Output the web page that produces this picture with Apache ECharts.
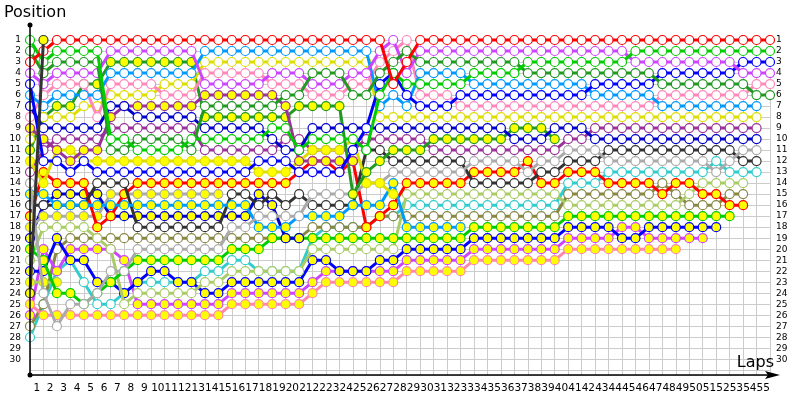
<!DOCTYPE html>
<html><head><meta charset="utf-8">
<script src="https://cdn.jsdelivr.net/npm/echarts@6/dist/echarts.min.js"></script>
<style>html,body{margin:0;padding:0;background:#fff}#c{width:800px;height:400px}</style>
</head><body><div id="c"></div>
<script>
const lapLabels = ['1','2','3','4','5','6','7','8','9','10','11','12','13','14','15','16','17','18','19','20','21','22','23','24','25','26','27','28','29','30','31','32','33','34','35','36','37','38','39','40','41','42','43','44','45','46','47','48','49','50','51','52','53','54','55'];
const posLabels = ['1','2','3','4','5','6','7','8','9','10','11','12','13','14','15','16','17','18','19','20','21','22','23','24','25','26','27','28','29','30'];

// positions per lap (index 0 = grid)
const R  = [3,2,1,1,1,1,1,1,1,1, 1,1,1,1,1,1,1,1,1,1, 1,1,1,1,1,1,1,5,3,1, 1,1,1,1,1,1,1,1,1,1, 1,1,1,1,1,1,1,1,1,1, 1,1,1,1,1,1];
const G  = [1,3,2,2,2,2,10,10,11,11, 11,11,10,10,10,10,10,10,9,9, 11,10,10,10,10,11,6,4,5,5, 5,5,5,4,4,4,4,3,3,3, 3,3,3,3,3,2,2,2,2,2, 2,2,2,2,2,2];
const DG = [2,4,3,3,3,3,11,11,10,10, 10,10,11,7,7,7,7,7,7,6, 6,4,4,4,6,6,4,3,2,3, 3,3,3,3,3,3,3,4,4,4, 4,4,4,4,4,4,4,5,5,5, 5,5,5,5,6,6];
const P  = [4,5,4,4,4,4,2,2,2,2, 2,2,2,5,5,5,5,5,4,4, 4,5,5,5,4,4,2,1,4,2, 2,2,2,2,2,2,2,2,2,2, 2,2,2,2,2,3,3,3,3,3, 3,3,3,4,4,4];
const B  = [5,12,12,13,12,13,13,13,13,13, 13,13,13,13,13,13,13,12,12,12, 13,13,13,13,11,9,5,4,6,7, 7,7,6,6,6,6,6,6,6,6, 6,6,5,5,5,5,5,4,4,4, 4,4,4,3,3,3];
const LB = [6,7,6,6,6,6,4,4,4,4, 4,4,4,2,2,2,2,2,2,2, 2,2,2,2,2,2,7,6,7,4, 4,4,4,5,5,5,5,5,5,5, 5,5,6,6,6,6,6,7,7,7, 7,7,7,7,7];
const N  = [7,9,9,9,9,9,7,7,8,8, 8,8,8,9,9,9,9,9,10,11, 11,9,9,9,9,9,9,9,9,9, 9,9,9,9,9,9,10,10,10,9, 9,9,10,10,10,10,10,10,10,10, 10,10,10,10,10];
const K  = [8,6,5,5,5,8,5,5,5,5, 6,6,6,4,4,4,4,4,5,5, 5,6,6,6,5,5,3,2,1,6, 6,6,7,7,7,7,7,7,7,7, 7,7,7,7,7,7,7,6,6,6, 6,6,6,6,5,5];
const Y  = [10,8,8,8,7,7,6,6,6,6, 5,5,5,3,3,3,3,3,3,3, 3,3,3,3,3,3,8,8,8,8, 8,8,8,8,8,8,8,8,8,8, 8,8,8,8,8,8,8,8,8,8, 8,8,8,8,8];
const DGy= [11,8,7,7,5,5,3,3,3,3, 3,3,3,8,8,8,8,8,8,8, 7,7,7,7,15,13,12,11,11,11, 10,10,10,10,10,10,9,9,9,10];
const PLy= [9,10,11,12,11,11,8,7,7,7, 7,7,7,6,6,6,6,6,6,7, 12,12,12,12,12];
const PL = [13,11,10,10,10,10,9,9,9,9, 9,9,9,11,11,11,11,11,11,10, 10,11,11,11,11,10,10,10,10,10, 11,11,11,11,11,11,11,11,11,11, 10,10,9,9,9,9,9,9,9,9, 9,9,9,9,9];
const Yy = [12,14,11,11,12,12,12,12,12,12, 12,12,12,12,12,12,12,13,13,13, 12,11,11,11,10,14,14,15];
const GR = [14,24,27,25,25,24,22,22,20,20, 20,20,20,20,20,18,18,17,17,17, 17,15,15,15,15,14,14,13,13,13, 13,13,13,12,12,12,12,13,12,12, 11,11,11,12,12,12,12,12,12,12, 12,13,12,11,11];
const BK = [16,16,16,16,16,14,14,14,18,18, 18,18,18,18,18,15,15,16,15,16, 15,16,16,16,16,11,11,12,12,12, 12,12,12,14,14,14,14,14,13,13, 12,12,12,11,11,11,11,11,11,11, 11,11,11,12,12];
const Ry = [17,13,14,14,14,18,17,15,14,14, 14,14,14,14,14,14,14,14,14,14, 13,12,12,13,12,18,17,16,14,14, 14,14,14,13,13,13,13,12,14,14, 13,13,13,14,14,14,14,15,14,14, 15,15,16,16];
const LBy= [15,15,16,16,16,16,16,16,16,16, 16,16,16,16,16,16,16,18,18,18, 17,17,17,17,16,16,16,14,18,18, 18,18,18];
const GRy= [18,17,17,17,17,17,15,15,15,15, 15,15,15,15,15];
const Ny = [19,16,15,15,15,15,17,17,17,17, 17,17,17,17,17,17,17,15,16,19, 19];
const Gy = [20,21,24,24,25,24,23,22,21,21, 21,21,21,21,21,20,20,20,19,19, 19,19,19,19,19,19,19,19,19,19, 19,19,19,18,18,18,18,18,18,18, 17,17,17,17,17,17,17,17,17,17, 17,17,17];
const LO = [21,18,18,18,18,19,20,25,24,24, 24,24,24,23,23,22,22,22,22,22, 22,20,20,20,20,20,20,20,15,15, 15,15,15,15,15,15,15,15,15,15, 16,16,16,16,16,16,16,16,16,15, 14,14,14,14];
const By = [22,22,19,21,21,23,23,24,23,22, 22,23,23,24,24,23,23,23,23,23, 23,21,21,22,22,22,21,21,20,20, 20,20,20,19,19,19,19,19,19,19, 18,18,18,18,19,19,18,18,18,18, 18,18];
const LOy= [23,23,23];
const BKy= [24,1];
const Ky = [25,26,26,26,26,26,26,26,26,26, 26,26,26,26,26,25,25,25,25,25, 25,24,23,23,23,23,23,23,22,22, 22,22,22,21,21,21,21,21,21,21, 20,20,20,20,20,20,20,20,20];
const Py = [26,20,22,20,20,20,20,21,25,25, 25,25,25,25,25,24,24,24,24,24, 24,23,22,22,22,22,22,22,21,21, 21,21,21,20,20,20,20,20,20,20, 19,19,19,19,18,18,19,19,19,19, 19];
const O  = [27,25,20,19,19,19,19,19,19,19, 19,19,19,19,19,19,19,19,19,19, 19,18,18,18,18,18,17,17,17,17, 17,17,17,17,17,17,17,17,17,17, 15,15,15,15,15,15,15,14,15,16, 16,16,15,15];
const C  = [28,25,22,21,23,25,25,24,23,23, 23,23,23,22,22,21,21,22,22,22, 22,19,18,18,18,18,17,17,16,16, 16,16,16,16,16,16,16,16,16,16, 14,14,14,13,13,13,13,13,13,13, 13,12,13,13,13];

const WHITE = '#ffffff', YEL = '#ffff00';
const drivers = [
  ['C', C, '#33cccc', WHITE], ['O', O, '#888844', WHITE], ['Py', Py, '#cc44ff', YEL], ['Ky', Ky, '#ff88aa', YEL],
  ['LOy', LOy, '#aacc66', YEL], ['By', By, '#0000ff', YEL], ['LO', LO, '#aacc66', WHITE], ['Gy', Gy, '#00cc00', YEL],
  ['Ny', Ny, '#0000cc', YEL], ['GRy', GRy, '#aaaaaa', YEL], ['Ry', Ry, '#ff0000', YEL], ['BK', BK, '#333333', WHITE],
  ['LBy', LBy, '#0099ff', YEL], ['GR', GR, '#aaaaaa', WHITE], ['PL', PL, '#993399', WHITE], ['Yy', Yy, '#dddd00', YEL],
  ['DGy', DGy, '#229922', YEL], ['Y', Y, '#dddd00', WHITE], ['PLy', PLy, '#993399', YEL], ['K', K, '#ff88bb', WHITE],
  ['N', N, '#0000cc', WHITE], ['LB', LB, '#0099ff', WHITE], ['B', B, '#0000ff', WHITE], ['P', P, '#cc44ff', WHITE],
  ['DG', DG, '#229922', WHITE], ['G', G, '#00cc00', WHITE], ['R', R, '#ff0000', WHITE], ['BKy', BKy, '#333333', YEL]
];

const chart = echarts.init(document.getElementById('c'), null, {renderer: 'canvas'});
const X0 = 30, X1 = 770, Y0 = 40, YB = 375;
const series = drivers.map(([name, arr, col, fill], k) => ({
  name, type: 'line', xAxisIndex: 1, yAxisIndex: 0,
  data: arr.map((p, i) => [i, p]),
  symbol: 'circle', symbolSize: 9, showAllSymbol: true, clip: false,
  lineStyle: {color: col, width: 3},
  itemStyle: {color: fill, borderColor: col, borderWidth: 1.2},
  emphasis: {disabled: true}, silent: true, z: 2 + k / 100
}));

chart.setOption({
  animation: false,
  backgroundColor: '#ffffff',
  grid: {left: X0, right: 800 - X1, top: Y0, bottom: 400 - YB},
  xAxis: [
    {type: 'category', data: lapLabels, boundaryGap: true, position: 'bottom',
     axisLine: {show: false}, axisTick: {show: false},
     axisLabel: {interval: 0, color: '#000', fontFamily: 'DejaVu Sans', fontSize: 10.5, margin: 8},
     splitLine: {show: true, interval: 0, lineStyle: {color: '#cccccc', width: 1}}},
    {type: 'value', min: 0, max: 55, show: false}
  ],
  yAxis: [
    {type: 'value', inverse: true, min: 1, max: 31.43, interval: 1, position: 'left',
     axisLine: {show: false}, axisTick: {show: false},
     axisLabel: {color: '#000', fontFamily: 'DejaVu Sans', fontSize: 9, margin: 9,
       formatter: v => (v >= 1 && v <= 30 && Math.abs(v - Math.round(v)) < 1e-6) ? posLabels[Math.round(v) - 1] : ''},
     splitLine: {show: true, lineStyle: {color: '#cccccc', width: 1}}},
    {type: 'value', inverse: true, min: 1, max: 31.43, interval: 1, position: 'right',
     axisLine: {show: false}, axisTick: {show: false},
     axisLabel: {color: '#000', fontFamily: 'DejaVu Sans', fontSize: 9, margin: 6,
       formatter: v => (v >= 1 && v <= 30 && Math.abs(v - Math.round(v)) < 1e-6) ? posLabels[Math.round(v) - 1] : ''},
     splitLine: {show: false}}
  ],
  graphic: [
    {type: 'line', shape: {x1: X0, y1: YB, x2: X0, y2: 25}, style: {stroke: '#000', lineWidth: 1.5}, z: 50},
    {type: 'circle', shape: {cx: X0, cy: 25, r: 2.5}, style: {fill: '#000'}, z: 50},
    {type: 'circle', shape: {cx: X0, cy: YB, r: 2.5}, style: {fill: '#000'}, z: 50},
    {type: 'line', shape: {x1: X0, y1: YB, x2: 772, y2: YB}, style: {stroke: '#000', lineWidth: 1.5}, z: 50},
    {type: 'polygon', shape: {points: [[780, YB], [765, YB - 4], [768, YB], [765, YB + 4]]}, style: {fill: '#000'}, z: 50},
    {type: 'text', left: 4, top: 5, style: {text: 'Position', font: '16px "DejaVu Sans"', fill: '#000'}, z: 50},
    {type: 'text', right: 26, top: 355, style: {text: 'Laps', font: '16px "DejaVu Sans"', fill: '#000'}, z: 50}
  ],
  series
});
</script></body></html>
